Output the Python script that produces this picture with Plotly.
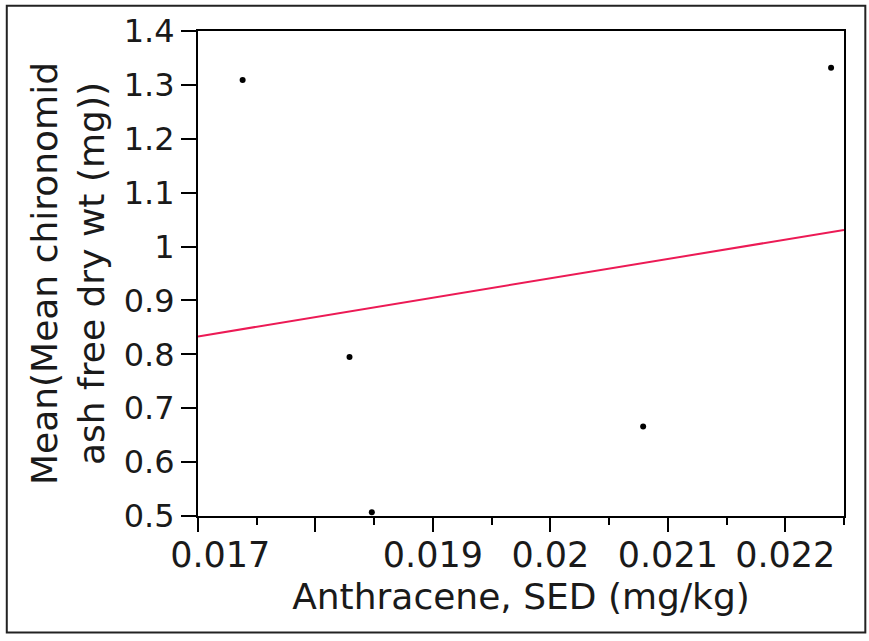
import numpy as np
import plotly.graph_objects as go

# Data
anthracene = [0.01738, 0.01829, 0.01848, 0.02079, 0.02239]
chironomid_wt = [1.309, 0.795, 0.507, 0.666, 1.332]

x_tick_vals = [0.017, 0.018, 0.019, 0.020, 0.021, 0.022]
x_tick_text = ["0.017", "", "0.019", "0.02", "0.021", "0.022"]
y_tick_vals = [0.5, 0.6, 0.7, 0.8, 0.9, 1.0, 1.1, 1.2, 1.3, 1.4]
y_tick_text = ["0.5", "0.6", "0.7", "0.8", "0.9", "1", "1.1", "1.2", "1.3", "1.4"]

x_range = [0.017, 0.0225]
y_range = [0.5, 1.4]

# least-squares fit line across the axis range
slope, intercept = np.polyfit(anthracene, chironomid_wt, 1)
fit_x = np.array(x_range)
fit_y = slope * fit_x + intercept

FONT = "DejaVu Sans"
Y_TICK_SIZE = 32
X_TICK_SIZE = 35
TITLE_SIZE = 36

# first label is nudged right in the original (avoids the y labels)
x_tick_text_disp = ["\u00a0" * 4 + x_tick_text[0]] + x_tick_text[1:]

fig = go.Figure()
fig.add_trace(go.Scatter(x=fit_x, y=fit_y, mode="lines",
                         line=dict(color="#EC1A55", width=2), hoverinfo="skip",
                         showlegend=False))
fig.add_trace(go.Scatter(x=anthracene, y=chironomid_wt, mode="markers",
                         marker=dict(color="black", size=6), showlegend=False))

fig.update_layout(
    width=869, height=641,
    margin=dict(l=198, r=25, t=29, b=125),
    paper_bgcolor="white", plot_bgcolor="white",
    font=dict(family=FONT, color="#1a1a1a", size=Y_TICK_SIZE),
    xaxis=dict(
        range=x_range, tickmode="array", tickvals=x_tick_vals, ticktext=x_tick_text_disp,
        ticks="outside", ticklen=14, tickwidth=2, tickcolor="black",
        showline=True, linecolor="black", linewidth=2, mirror=True,
        showgrid=False, zeroline=False, ticklabelstandoff=-7,
        tickfont=dict(size=X_TICK_SIZE, family=FONT),
        minor=dict(tickmode="linear", tick0=0.0165, dtick=0.001, ticks="outside",
                   ticklen=7, tickwidth=2, tickcolor="black", showgrid=False),
        title=dict(text="Anthracene, SED (mg/kg)", font=dict(size=TITLE_SIZE, family=FONT), standoff=10),
    ),
    yaxis=dict(
        range=y_range, tickmode="array", tickvals=y_tick_vals, ticktext=y_tick_text,
        ticks="outside", ticklen=15, tickwidth=2, tickcolor="black",
        showline=True, linecolor="black", linewidth=2, mirror=True,
        showgrid=False, zeroline=False,
        tickfont=dict(size=Y_TICK_SIZE, family=FONT),
        title=dict(text="Mean(Mean chironomid<br>ash free dry wt (mg))",
                   font=dict(size=TITLE_SIZE, family=FONT), standoff=8),
    ),
    shapes=[
        dict(type="rect", xref="paper", yref="paper",
             x0=-0.296, x1=1.033, y0=-0.240, y1=1.052,
             line=dict(color="#222222", width=2), layer="below"),
    ],
)

fig.write_html("out.html", config={"displayModeBar": False},
               post_script="document.body.style.margin='0';document.body.style.overflow='hidden';")
